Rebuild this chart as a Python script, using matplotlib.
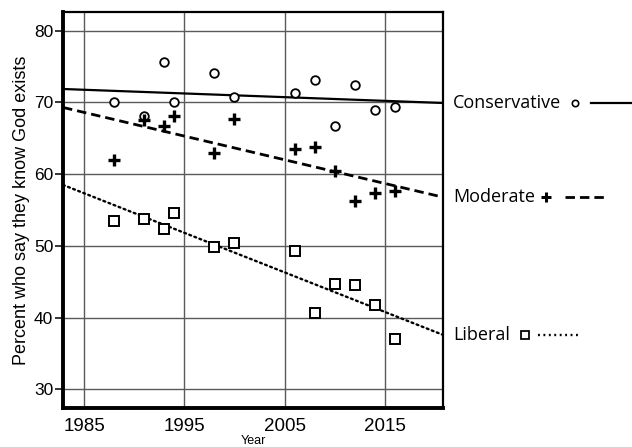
import numpy as np
import matplotlib
matplotlib.use("Agg")
from matplotlib import pyplot as plt
from matplotlib import transforms
from matplotlib.lines import Line2D

# survey years and share who say they know God exists, by political view
years = [1988, 1991, 1993, 1994, 1998, 2000, 2006, 2008, 2010, 2012, 2014, 2016]
conservative = [70.0, 68.1, 75.6, 70.0, 74.1, 70.8, 71.3, 73.1, 66.7, 72.5, 68.9, 69.3]
moderate = [62.0, 67.5, 66.7, 68.1, 63.0, 67.7, 63.5, 63.8, 60.4, 56.3, 57.4, 57.6]
liberal = [53.5, 53.7, 52.3, 54.6, 49.9, 50.4, 49.3, 40.6, 44.7, 44.6, 41.7, 37.0]
groups = ["Conservative", "Moderate", "Liberal"]

x_ticks = [1985, 1995, 2005, 2015]
y_ticks = [30, 40, 50, 60, 70, 80]
xlim = (1982.9, 2020.8)
ylim = (27.4, 82.6)

plt.rcParams['font.family'] = ['Liberation Sans', 'DejaVu Sans']

fig = plt.figure(figsize=(6.32, 4.47), dpi=100)
ax = fig.add_axes([0.0997, 0.0872, 0.6013, 0.8858])

styles = {
    "Conservative": dict(marker='o', ms=6.2, mew=1.3, mfc='white', ls='-', lw=1.6),
    "Moderate": dict(marker='+', ms=8, mew=2.4, mfc='none', ls=(0, (3.4, 1.8)), lw=2.0),
    "Liberal": dict(marker='s', ms=7.2, mew=1.4, mfc='white', ls=(0, (0.8, 1.5)), lw=1.7),
}
series = [conservative, moderate, liberal]

x = np.array(years, dtype=float)
fit_x = np.array(xlim)
ends = {}
for name, vals in zip(groups, series):
    st = styles[name]
    # least squares trend across the whole x range
    b, a = np.polyfit(x, vals, 1)
    fit_y = a + b * fit_x
    ax.plot(fit_x, fit_y, color='black', ls=st['ls'], lw=st['lw'], zorder=3,
            dash_capstyle='butt' if name != "Liberal" else 'round')
    ax.plot(x, vals, ls='none', marker=st['marker'], ms=st['ms'], mew=st['mew'],
            mfc=st['mfc'], mec='black', zorder=4)
    ends[name] = fit_y[-1]

ax.set_xlim(*xlim)
ax.set_ylim(*ylim)
ax.set_xticks(x_ticks)
ax.set_yticks(y_ticks)
ax.grid(True, color='#5a5a5a', lw=1.0)
ax.set_axisbelow(True)
ax.tick_params(axis='x', length=0, labelsize=13.5, pad=7)
ax.tick_params(axis='y', length=6, width=1.1, labelsize=12.5, pad=1)
for side in ['left', 'bottom']:
    ax.spines[side].set_linewidth(2.8)
for side in ['top', 'right']:
    ax.spines[side].set_linewidth(1.6)
ax.set_xlabel("Year", fontsize=9, labelpad=0)
ax.set_ylabel("Percent who say they know God exists", fontsize=13, labelpad=3)

# labels to the right of the plot with a marker and line sample
trans = transforms.blended_transform_factory(fig.transFigure, ax.transData)
label_x = 453 / 632
texts = {}
for name in groups:
    texts[name] = fig.text(label_x, ends[name], name, transform=trans,
                           ha='left', va='center', fontsize=13,
                           family=['Open Sans', 'DejaVu Sans'])
fig.canvas.draw()
r = fig.canvas.get_renderer()
W = fig.bbox.width
# gap to marker, gap marker to sample, sample length (pixels)
offsets = {"Conservative": (14, 16, 42), "Moderate": (11, 19, 40), "Liberal": (15, 13, 40)}
legend_ms = {"Conservative": 4.6, "Moderate": 7.5, "Liberal": 6.2}
for name in groups:
    st = styles[name]
    bb = texts[name].get_window_extent(r)
    gap, gap2, length = offsets[name]
    mx = bb.x1 + gap
    y = ends[name]
    fig.add_artist(Line2D([mx / W], [y], transform=trans, marker=st['marker'],
                          ms=legend_ms[name], mew=st['mew'] * 0.9, mfc=st['mfc'],
                          mec='black', ls='none'))
    x0 = (mx + gap2) / W
    x1 = x0 + length / W
    fig.add_artist(Line2D([x0, x1], [y, y], transform=trans, color='black',
                          ls=st['ls'], lw=st['lw']))

fig.savefig("out.png", dpi=100)
